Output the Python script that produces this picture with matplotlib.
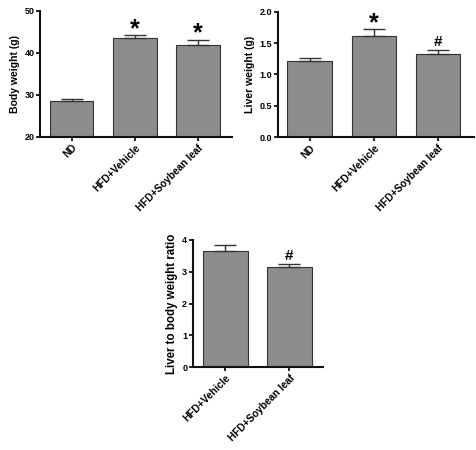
import matplotlib
matplotlib.use("Agg")
import matplotlib.pyplot as plt

plt.rcParams['font.family'] = ['Liberation Sans', 'DejaVu Sans']
plt.rcParams['font.weight'] = 'bold'

groups3 = ["ND", "HFD+Vehicle", "HFD+Soybean leaf"]
body_weight = [28.6, 43.6, 42.0]
body_err = [0.4, 0.75, 1.2]
body_marks = ["", "*", "*"]

liver_weight = [1.22, 1.62, 1.33]
liver_err = [0.04, 0.10, 0.06]
liver_marks = ["", "*", "#"]

groups2 = ["HFD+Vehicle", "HFD+Soybean leaf"]
ratio = [3.65, 3.15]
ratio_err = [0.19, 0.08]
ratio_marks = ["", "#"]

BAR = "#8c8c8c"
EDGE = "#333333"

fig = plt.figure(figsize=(4.76, 4.5), dpi=100)

def panel(rect, cats, vals, errs, marks, ylim, yticks, yfmt, ylabel, xr, ylsize):
    ax = fig.add_axes(rect)
    x = list(range(len(cats)))
    ax.bar(x, vals, width=0.69, color=BAR, edgecolor=EDGE, linewidth=0.8, zorder=2)
    ax.errorbar(x, vals, yerr=[[0]*len(vals), errs], fmt='none', ecolor=EDGE,
                elinewidth=1.0, capsize=8, capthick=1.0, zorder=3)
    ax.set_ylim(*ylim)
    ax.set_xlim(*xr)
    ax.set_yticks(yticks)
    ax.set_yticklabels([yfmt.format(t) for t in yticks], fontsize=6.5, fontweight='bold')
    ax.set_xticks(x)
    ax.set_xticklabels(cats, rotation=45, ha='right', rotation_mode='anchor',
                       fontsize=7.3, fontweight='bold')
    ax.set_ylabel(ylabel, fontsize=ylsize, fontweight='bold', labelpad=3)
    for s in ['top', 'right']:
        ax.spines[s].set_visible(False)
    for s in ['left', 'bottom']:
        ax.spines[s].set_linewidth(1.5)
        ax.spines[s].set_color('#111111')
    ax.tick_params(axis='y', length=3, width=1.2, pad=1)
    ax.tick_params(axis='x', length=3, width=1.2, pad=1)
    for xi, v, e, m in zip(x, vals, errs, marks):
        if m == "*":
            ax.annotate(m, (xi, v + e), xytext=(0, -4.5), textcoords='offset points',
                        ha='center', va='bottom', fontsize=18, fontweight='bold')
        elif m == "#":
            ax.annotate(m, (xi, v + e), xytext=(0, 1), textcoords='offset points',
                        ha='center', va='bottom', fontsize=11, fontweight='bold')
    return ax

panel([0.084, 0.6956, 0.403, 0.28], groups3, body_weight, body_err, body_marks,
      (20, 50), [20, 30, 40, 50], "{:.0f}", "Body weight (g)", (-0.5, 2.53), 7.5)
panel([0.583, 0.695, 0.412, 0.279], groups3, liver_weight, liver_err, liver_marks,
      (0, 2.0), [0.0, 0.5, 1.0, 1.5, 2.0], "{:.1f}", "Liver weight (g)", (-0.5, 2.55), 7.6)
panel([0.405, 0.1838, 0.273, 0.283], groups2, ratio, ratio_err, ratio_marks,
      (0, 4), [0, 1, 2, 3, 4], "{:.0f}", "Liver to body weight ratio", (-0.51, 1.52), 8.3)

fig.savefig("out.png", dpi=100)
